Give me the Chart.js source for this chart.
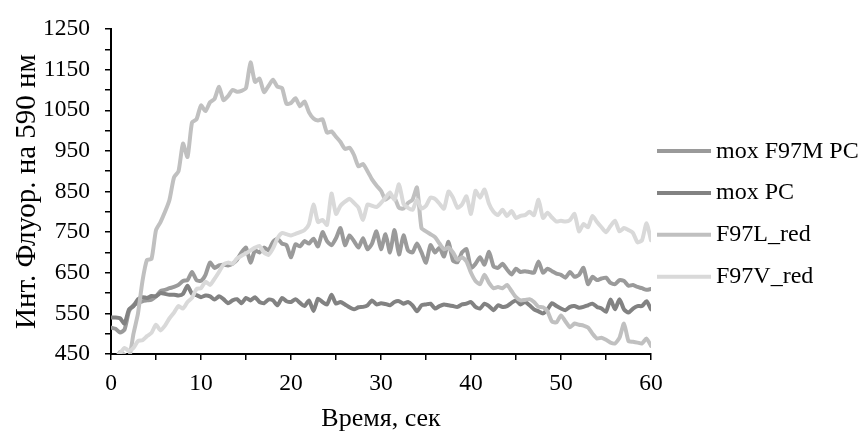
<!DOCTYPE html>
<html>
<head>
<meta charset="utf-8">
<script src="https://cdn.jsdelivr.net/npm/chart.js@4.4.1/dist/chart.umd.min.js"></script>
<style>
  body { margin: 0; background: #fff; }
  #wrap { width: 861px; height: 432px; position: relative; }
</style>
</head>
<body>
<div id="wrap"><canvas id="myChart"></canvas></div>
<script>
// time, s (one reading every 0.5 s)
const times = [
  0, 0.5, 1, 1.5, 2, 2.5, 3, 3.5, 4, 4.5,
  5, 5.5, 6, 6.5, 7, 7.5, 8, 8.5, 9, 9.5,
  10, 10.5, 11, 11.5, 12, 12.5, 13, 13.5, 14, 14.5,
  15, 15.5, 16, 16.5, 17, 17.5, 18, 18.5, 19, 19.5,
  20, 20.5, 21, 21.5, 22, 22.5, 23, 23.5, 24, 24.5,
  25, 25.5, 26, 26.5, 27, 27.5, 28, 28.5, 29, 29.5,
  30, 30.5, 31, 31.5, 32, 32.5, 33, 33.5, 34, 34.5,
  35, 35.5, 36, 36.5, 37, 37.5, 38, 38.5, 39, 39.5,
  40, 40.5, 41, 41.5, 42, 42.5, 43, 43.5, 44, 44.5,
  45, 45.5, 46, 46.5, 47, 47.5, 48, 48.5, 49, 49.5,
  50, 50.5, 51, 51.5, 52, 52.5, 53, 53.5, 54, 54.5,
  55, 55.5, 56, 56.5, 57, 57.5, 58, 58.5, 59, 59.5,
  60
];

const seriesNames = ['mox F97M PC', 'mox PC', 'F97L_red', 'F97V_red'];

const moxF97M = [
  515, 512, 503, 510, 555, 570, 576, 580, 582, 584,
  592, 605, 608, 612, 615, 620, 630, 632, 652, 632,
  630, 645, 675, 662, 668, 670, 668, 672, 682, 700,
  712, 675, 705, 700, 712, 705, 726, 734, 722, 718,
  688, 720, 715, 728, 722, 734, 715, 750, 728, 718,
  735, 760, 718, 742, 728, 712, 735, 708, 722, 752,
  708, 745, 700, 755, 695, 742, 705, 700, 722, 700,
  675, 718, 700, 712, 690, 726, 680, 676, 700, 708,
  662, 672, 688, 670, 702, 666, 662, 672, 658, 646,
  660, 652, 654, 652, 650, 678, 650, 660, 654, 648,
  645, 638, 652, 640, 645, 662, 622, 640, 632, 636,
  638, 625, 622, 632, 630, 618, 620, 615, 612, 608,
  610
];

const moxPC = [
  540, 540, 538, 525, 560, 568, 585, 590, 588, 593,
  592, 600, 598, 596, 596, 594, 598, 618, 598, 595,
  590, 594, 592, 584, 592, 585, 575, 582, 585, 575,
  588, 582, 590, 578, 575, 584, 582, 570, 588, 580,
  578, 585, 576, 568, 582, 556, 586, 578, 572, 596,
  574, 578, 572, 565, 560, 565, 566, 570, 582, 572,
  575, 573, 570, 578, 580, 574, 578, 570, 555, 570,
  572, 574, 562, 568, 572, 570, 568, 566, 572, 574,
  578, 566, 562, 574, 568, 558, 570, 566, 568, 576,
  582, 572, 578, 570, 560, 555, 550, 560, 575, 568,
  562, 558, 566, 568, 564, 566, 570, 574, 566, 562,
  554, 584, 560, 585, 560, 552, 562, 568, 568, 580,
  560
];

const f97L = [
  420, 435, 455, 448, 440, 500, 550, 630, 682, 684,
  755, 775, 800, 830, 885, 900, 968, 935, 1020, 1028,
  1062, 1048, 1070, 1078, 1108, 1075, 1085, 1100, 1096, 1098,
  1105, 1168, 1120, 1128, 1095, 1110, 1125, 1108, 1105, 1066,
  1068, 1080, 1060, 1072, 1045, 1030, 1025, 1028, 995, 998,
  985, 972, 955, 958, 940, 912, 918, 900, 880, 865,
  852, 830, 838, 835, 810, 808, 822, 830, 860, 760,
  752, 745, 738, 722, 708, 712, 700, 682, 688, 678,
  650, 630, 622, 645, 625, 612, 615, 612, 620, 605,
  590, 582, 583, 585, 578, 566, 565, 555, 530, 528,
  545, 530, 516, 525, 522, 520, 515, 500, 488, 490,
  485, 478, 476, 490, 525, 482, 480, 478, 476, 488,
  470
];

const f97V = [
  430, 440, 452, 465, 458, 465, 482, 484, 494, 502,
  522, 508, 520, 538, 552, 568, 562, 578, 588, 610,
  612, 628, 620, 635, 652, 670, 675, 672, 685, 692,
  698, 705, 712, 716, 700, 694, 710, 735, 748, 745,
  742, 746, 750, 755, 770, 818, 775, 780, 768, 845,
  795, 815, 825, 832, 822, 810, 780, 818, 815, 812,
  822, 835, 848, 830, 868, 820, 810, 805, 830, 808,
  815, 835, 832, 820, 808, 850, 835, 810, 818, 838,
  795, 852, 835, 855, 820, 800, 792, 805, 790, 802,
  785, 790, 792, 800, 792, 830, 785, 798, 786, 776,
  778, 776, 780, 795, 752, 770, 762, 790, 775, 762,
  750, 765, 778, 752, 760, 755, 748, 725, 730, 772,
  730
];

const yLabels = [450, 550, 650, 750, 850, 950, 1050, 1150, 1250];
const xLabels = [0, 10, 20, 30, 40, 50, 60];

const seriesValues = [moxF97M, moxPC, f97L, f97V];
const seriesColors = ['#9a9a9a', '#828282', '#c0c0c0', '#d9d9d9'];

const serif = "'Liberation Serif', 'Times New Roman', serif";
Chart.defaults.font.family = serif;
Chart.defaults.font.size = 23.5;
Chart.defaults.color = '#000';

// legend drawn to the right of the plot, like the Excel original
const sideLegend = {
  id: 'sideLegend',
  afterDraw(chart) {
    const {ctx, chartArea} = chart;
    ctx.save();
    ctx.font = '24px ' + serif;
    ctx.textBaseline = 'alphabetic';
    chart.data.datasets.forEach((ds, i) => {
      const y = 151 + i * 41.9;
      const x = chartArea.right + 6;
      ctx.strokeStyle = ds.borderColor;
      ctx.lineWidth = 4;
      ctx.beginPath();
      ctx.moveTo(x, y);
      ctx.lineTo(x + 54, y);
      ctx.stroke();
      ctx.fillStyle = '#000';
      ctx.fillText(ds.label, x + 59, y + 6.5);
    });
    ctx.restore();
  }
};

const ctx = document.getElementById('myChart');

const chart = new Chart(ctx, {
  type: 'line',
  data: {
    datasets: seriesNames.map((name, i) => ({
      label: name,
      data: times.map((t, j) => ({x: t, y: seriesValues[i][j]})),
      borderColor: seriesColors[i],
      backgroundColor: seriesColors[i],
      order: seriesNames.length - i
    }))
  },
  options: {
    responsive: true,
    maintainAspectRatio: false,
    animation: false,
    layout: {
      padding: {top: 25, right: 210, bottom: 0, left: 0}
    },
    plugins: {
      legend: {display: false},
      tooltip: {enabled: false}
    },
    elements: {
      point: {radius: 0},
      line: {borderWidth: 4, tension: 0.2, borderJoinStyle: 'round', borderCapStyle: 'round'}
    },
    scales: {
      x: {
        type: 'linear',
        min: 0,
        max: 60,
        ticks: {
          stepSize: 5,
          autoSkip: false,
          maxRotation: 0,
          padding: 10,
          callback: v => xLabels.includes(v) ? v : ''
        },
        grid: {drawOnChartArea: false, color: '#000', lineWidth: 1.5, tickLength: 6},
        border: {color: '#000', width: 2},
        title: {display: true, text: 'Время, сек', font: {size: 26}, padding: {top: 0, bottom: -3}},
        afterFit: s => { s.height = 78; }
      },
      y: {
        min: 450,
        max: 1250,
        ticks: {
          stepSize: 50,
          autoSkip: false,
          padding: 15,
          callback: v => yLabels.includes(v) ? v : ''
        },
        grid: {drawOnChartArea: false, color: '#000', lineWidth: 1.5, tickLength: 6},
        border: {color: '#000', width: 2},
        title: {display: true, text: 'Инт. Флуор. на 590 нм', font: {size: 29}, padding: {top: 10, bottom: 0}},
        afterFit: s => { s.width = 111; }
      }
    }
  },
  plugins: [sideLegend]
});
</script>
</body>
</html>
